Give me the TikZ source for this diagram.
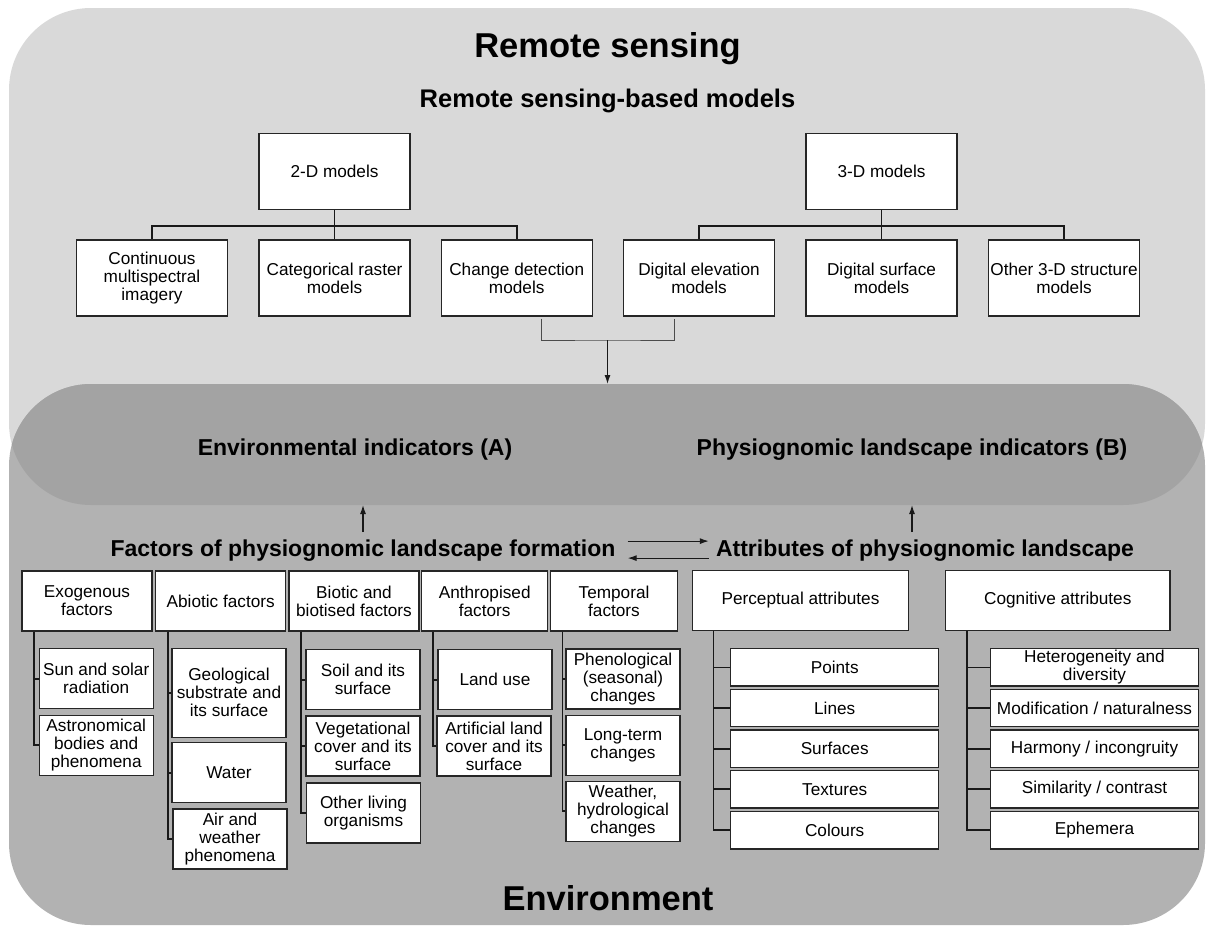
\documentclass[tikz,border=0pt]{standalone}
\usepackage{fontspec}
\setmainfont{Liberation Sans}
\usetikzlibrary{arrows.meta}
\definecolor{rsgray}{gray}{0.85}
\definecolor{envgray}{gray}{0.70}
\definecolor{bandgray}{gray}{0.64}

\begin{document}
\begin{tikzpicture}[x=1pt,y=-1pt,
  box/.style={draw=black!85, line width=1.4pt, fill=white, align=center, inner sep=1pt, font=\fontsize{17.2}{18}\selectfont},
  modelbox/.style={box, minimum width=151pt, minimum height=76pt},
  factbox/.style={box, minimum width=130pt, minimum height=60pt},
  subbox/.style={box, minimum width=114pt, minimum height=60pt},
  attrbox/.style={box, minimum width=208pt, minimum height=37.5pt},
  bigtitle/.style={anchor=base, font=\bfseries\fontsize{34.5}{40}\selectfont},
  midtitle/.style={anchor=base, inner sep=7pt, font=\bfseries\fontsize{23}{27}\selectfont},
  link/.style={line width=1.7pt, black!90},
  arr/.style={line width=1.2pt, black!90, -{Latex[length=9pt,width=6pt]}}]
\useasboundingbox (0,0) rectangle (1206,926);
\fill[rsgray, rounded corners=82pt] (9,8) rectangle (1205,505);
\fill[envgray, rounded corners=82pt] (9,384) rectangle (1205,925);
\begin{scope}
\clip[rounded corners=82pt] (9,8) rectangle (1205,505);
\fill[bandgray, rounded corners=82pt] (9,384) rectangle (1205,925);
\end{scope}
\coordinate (bandN) at (607.5,384);
\coordinate (bandS) at (607.5,505);

\node[bigtitle] (rs) at (607.5,57) {Remote sensing};
\node[midtitle, inner sep=3pt, font=\bfseries\fontsize{25.5}{30}\selectfont] (rsmodels) at (607.5,107) {Remote sensing-based models};
\node[modelbox] (twoD) at (334.5,171.5) {2-D models};
\node[modelbox] (threeD) at (881.5,171.5) {3-D models};
\node[modelbox] (cont) at (152,278) {Continuous\\multispectral\\imagery};
\node[modelbox] (cat) at (334.5,278) {Categorical raster\\models};
\node[modelbox] (chg) at (516.7,278) {Change detection\\models};
\node[modelbox] (dem) at (699,278) {Digital elevation\\models};
\node[modelbox] (dsm) at (881.5,278) {Digital surface\\models};
\node[modelbox] (oth) at (1064,278) {Other 3-D structure\\models};
\draw[link] (twoD.south) -- ++(0,16) -| (cont.north);
\draw[link] (twoD.south) -- ++(0,16) -| (chg.north);
\draw[link] (twoD.south) -- (cat.north);
\draw[link] (threeD.south) -- ++(0,16) -| (dem.north);
\draw[link] (threeD.south) -- ++(0,16) -| (oth.north);
\draw[link] (threeD.south) -- (dsm.north);
\coordinate (brace) at (607.5,340);
\draw[line width=0.8pt, black!70] ([xshift=25pt,yshift=-2pt]chg.south) |- (brace) -| ([xshift=-25pt,yshift=-2pt]dem.south);
\draw[arr] (brace) -- (bandN);

\node[midtitle, inner sep=3pt] (envA) at (355,455) {Environmental indicators (A)};
\node[midtitle, inner sep=3pt] (physB) at (912,455) {Physiognomic landscape indicators (B)};
\node[midtitle] (factors) at (363,556) {Factors of physiognomic landscape formation};
\node[midtitle] (attrib) at (925,556) {Attributes of physiognomic landscape};
\draw[arr] (factors.north) -- (factors.north |- bandS);
\draw[arr] (attrib.north -| physB) -- (physB |- bandS);
\draw[arr] ([xshift=5pt,yshift=9pt]factors.east) -- ([yshift=9pt]attrib.west);
\draw[arr] ([yshift=-8pt]attrib.west) -- ([xshift=5pt,yshift=-8pt]factors.east);
\node[bigtitle] (env) at (608,910) {Environment};

\node[factbox] (exo) at (87,601) {Exogenous\\factors};
\node[factbox] (abio) at (220.7,601) {Abiotic factors};
\node[factbox] (bio) at (354,601) {Biotic and\\biotised factors};
\node[factbox, minimum width=126pt] (anth) at (484.7,601) {Anthropised\\factors};
\node[factbox, minimum width=127pt] (temp) at (614,601) {Temporal\\factors};
\node[factbox, minimum width=215.6pt] (perc) at (800.5,600.5) {Perceptual attributes};
\node[factbox, minimum width=224.3pt] (cogn) at (1057.8,600.5) {Cognitive attributes};

\node[subbox] (sun) at (96.2,678.7) {Sun and solar\\radiation};
\node[subbox] (astro) at (96.2,745.3) {Astronomical\\bodies and\\phenomena};
\node[subbox, minimum height=89pt] (geo) at (229,692.8) {Geological\\substrate and\\its surface};
\node[subbox] (water) at (229,772.7) {Water};
\node[subbox] (air) at (230,839) {Air and\\weather\\phenomena};
\node[subbox] (soil) at (363,679.7) {Soil and its\\surface};
\node[subbox] (veg) at (363,746) {Vegetational\\cover and its\\surface};
\node[subbox] (othliv) at (363.5,813) {Other living\\organisms};
\node[subbox] (land) at (495,679.7) {Land use};
\node[subbox] (artif) at (494,746) {Artificial land\\cover and its\\surface};
\node[subbox] (phen) at (623,678.8) {Phenological\\(seasonal)\\changes};
\node[subbox] (long) at (623,745.3) {Long-term\\changes};
\node[subbox] (weath) at (623,811.3) {Weather,\\hydrological\\changes};

\node[attrbox] (points) at (834.7,667.4) {Points};
\node[attrbox] (lines) at (834.7,708) {Lines};
\node[attrbox] (surf) at (834.7,748.7) {Surfaces};
\node[attrbox] (text) at (834.7,789.3) {Textures};
\node[attrbox] (col) at (834.7,830.3) {Colours};
\node[attrbox] (het) at (1094.5,667.4) {Heterogeneity and\\diversity};
\node[attrbox] (modif) at (1094.5,708) {Modification / naturalness};
\node[attrbox] (harm) at (1094.5,748.7) {Harmony / incongruity};
\node[attrbox] (sim) at (1094.5,789.3) {Similarity / contrast};
\node[attrbox] (eph) at (1094.5,830.3) {Ephemera};

\draw[link] ([xshift=13pt]exo.south west) |- (sun.west);
\draw[link] ([xshift=13pt]exo.south west) |- (astro.west);
\draw[link] ([xshift=13pt]abio.south west) |- (geo.west);
\draw[link] ([xshift=13pt]abio.south west) |- (water.west);
\draw[link] ([xshift=13pt]abio.south west) |- (air.west);
\draw[link] ([xshift=13pt]bio.south west) |- (soil.west);
\draw[link] ([xshift=13pt]bio.south west) |- (veg.west);
\draw[link] ([xshift=13pt]bio.south west) |- (othliv.west);
\draw[link] ([xshift=12pt]anth.south west) |- (land.west);
\draw[link] ([xshift=12pt]anth.south west) |- (artif.west);
\draw[link] ([xshift=12.6pt]temp.south west) |- (phen.west);
\draw[link] ([xshift=12.6pt]temp.south west) |- (long.west);
\draw[link] ([xshift=12.6pt]temp.south west) |- (weath.west);
\draw[link] ([xshift=21.6pt]perc.south west) |- (points.west);
\draw[link] ([xshift=21.6pt]perc.south west) |- (lines.west);
\draw[link] ([xshift=21.6pt]perc.south west) |- (surf.west);
\draw[link] ([xshift=21.6pt]perc.south west) |- (text.west);
\draw[link] ([xshift=21.6pt]perc.south west) |- (col.west);
\draw[link] ([xshift=22.3pt]cogn.south west) |- (het.west);
\draw[link] ([xshift=22.3pt]cogn.south west) |- (modif.west);
\draw[link] ([xshift=22.3pt]cogn.south west) |- (harm.west);
\draw[link] ([xshift=22.3pt]cogn.south west) |- (sim.west);
\draw[link] ([xshift=22.3pt]cogn.south west) |- (eph.west);
\end{tikzpicture}
\end{document}
